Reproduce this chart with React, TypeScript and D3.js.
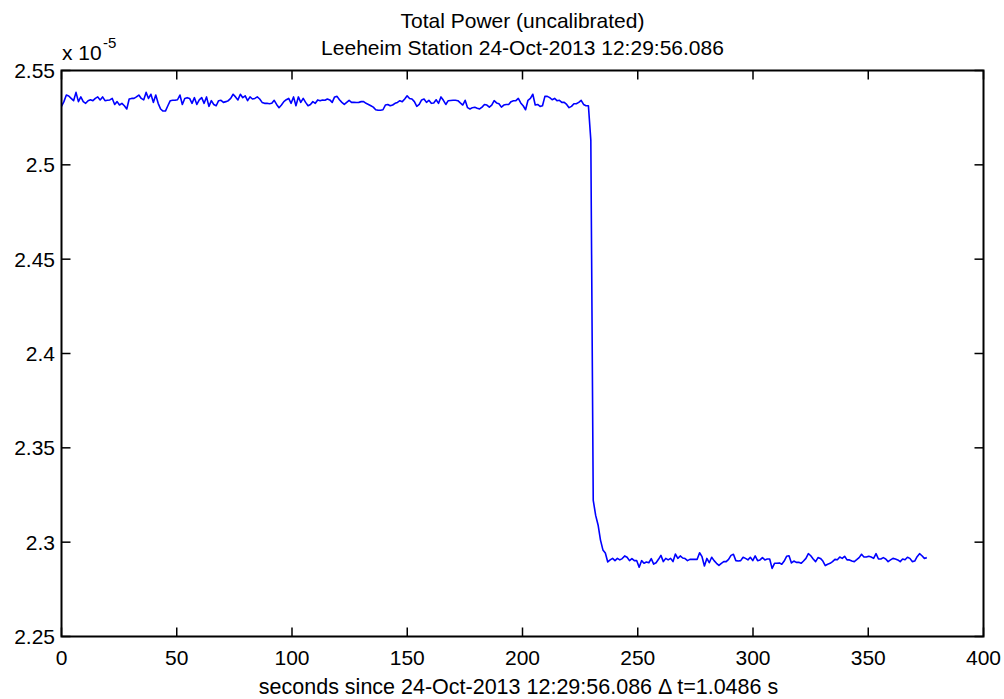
import React from "react";
import * as d3 from "d3";

const titleLines = ["Total Power (uncalibrated)", "Leeheim Station 24-Oct-2013 12:29:56.086"];
const xLabel = "seconds since 24-Oct-2013 12:29:56.086 \u0394 t=1.0486 s";
const dt = 1.0486;
const xTicks = [0, 50, 100, 150, 200, 250, 300, 350, 400];
const yTicks = [2.25, 2.3, 2.35, 2.4, 2.45, 2.5, 2.55];
const yTickLabels = ["2.25", "2.3", "2.35", "2.4", "2.45", "2.5", "2.55"];

// total power, units of 1e-5, one value per sample (spacing dt)
const powerHigh1 = [
  2.5310, 2.5335, 2.5370, 2.5365, 2.5352, 2.5340, 2.5384, 2.5335, 2.5360, 2.5335,
  2.5326, 2.5340, 2.5345, 2.5340, 2.5352, 2.5360, 2.5344, 2.5360, 2.5340, 2.5342,
  2.5344, 2.5352, 2.5320, 2.5335, 2.5317, 2.5326, 2.5313, 2.5296, 2.5349, 2.5352,
  2.5352, 2.5360, 2.5370, 2.5352, 2.5344, 2.5384, 2.5352, 2.5374, 2.5331, 2.5370,
  2.5326, 2.5296, 2.5285, 2.5285, 2.5313, 2.5340, 2.5342, 2.5342, 2.5345, 2.5370,
  2.5320, 2.5352, 2.5356, 2.5352, 2.5326, 2.5356, 2.5320, 2.5344, 2.5356, 2.5326,
  2.5360, 2.5310, 2.5340, 2.5320, 2.5313, 2.5340, 2.5342, 2.5331, 2.5335, 2.5340,
  2.5352, 2.5374, 2.5360,
];
const powerHigh2 = [
  2.5344, 2.5374, 2.5356, 2.5366, 2.5340, 2.5360, 2.5349, 2.5352, 2.5360, 2.5349,
  2.5331, 2.5326, 2.5326, 2.5324, 2.5326, 2.5342, 2.5320, 2.5303, 2.5317, 2.5335,
  2.5345, 2.5352, 2.5326, 2.5360, 2.5313, 2.5360, 2.5331, 2.5352, 2.5331, 2.5313,
  2.5320, 2.5335, 2.5326, 2.5344, 2.5340, 2.5344, 2.5342, 2.5349, 2.5344, 2.5331,
  2.5360, 2.5363, 2.5345, 2.5331, 2.5320, 2.5331, 2.5342, 2.5331, 2.5331, 2.5330,
  2.5331, 2.5335, 2.5335, 2.5326, 2.5320, 2.5313, 2.5306, 2.5292, 2.5289, 2.5289,
  2.5292, 2.5317, 2.5320, 2.5313, 2.5317, 2.5326, 2.5331, 2.5340, 2.5335, 2.5349,
  2.5366, 2.5352, 2.5349, 2.5335,
];
const powerHigh3 = [
  2.5310, 2.5320, 2.5344, 2.5349, 2.5331, 2.5342, 2.5326, 2.5328, 2.5345, 2.5326,
  2.5360, 2.5342, 2.5320, 2.5340, 2.5341, 2.5342, 2.5342, 2.5340, 2.5328, 2.5317,
  2.5342, 2.5303, 2.5296, 2.5303, 2.5305, 2.5300, 2.5296, 2.5306, 2.5320, 2.5317,
  2.5306, 2.5317, 2.5340, 2.5328, 2.5324, 2.5306, 2.5317, 2.5320, 2.5320, 2.5335,
  2.5340, 2.5340, 2.5352, 2.5328, 2.5313, 2.5292, 2.5342, 2.5352, 2.5374, 2.5317,
  2.5320, 2.5310, 2.5313, 2.5363, 2.5363, 2.5356, 2.5345, 2.5352, 2.5340, 2.5342,
  2.5331, 2.5331, 2.5320, 2.5303, 2.5310, 2.5324, 2.5324, 2.5331, 2.5342, 2.5320,
  2.5313, 2.5313,
];
const powerDrop = [2.5131, 2.3222, 2.3142, 2.3091, 2.3011, 2.2959, 2.2943, 2.2895];
const powerLow1 = [
  2.2906, 2.2914, 2.2902, 2.2914, 2.2906, 2.2913, 2.2927, 2.2920, 2.2902, 2.2913,
  2.2902, 2.2902, 2.2867, 2.2902, 2.2888, 2.2895, 2.2891, 2.2913, 2.2884, 2.2891,
  2.2909, 2.2930, 2.2897, 2.2914, 2.2906, 2.2914, 2.2897, 2.2937, 2.2914, 2.2927,
  2.2916, 2.2913, 2.2902, 2.2909, 2.2909, 2.2909, 2.2909, 2.2944, 2.2923, 2.2874,
  2.2914, 2.2891, 2.2920, 2.2902, 2.2888, 2.2877, 2.2888, 2.2897, 2.2897, 2.2909,
  2.2930, 2.2936, 2.2902, 2.2900, 2.2902, 2.2920, 2.2914, 2.2906, 2.2920, 2.2902,
  2.2927, 2.2902,
];
const powerLow2 = [
  2.2906, 2.2918, 2.2906, 2.2911, 2.2911, 2.2861, 2.2888, 2.2888, 2.2890, 2.2883,
  2.2900, 2.2925, 2.2928, 2.2890, 2.2900, 2.2893, 2.2893, 2.2888, 2.2900, 2.2914,
  2.2939, 2.2928, 2.2911, 2.2897, 2.2918, 2.2914, 2.2900, 2.2876, 2.2883, 2.2888,
  2.2897, 2.2909, 2.2907, 2.2921, 2.2914, 2.2925, 2.2906, 2.2906, 2.2900, 2.2897,
  2.2907, 2.2918, 2.2936, 2.2921, 2.2921, 2.2925, 2.2921, 2.2914, 2.2939, 2.2911,
  2.2911, 2.2918, 2.2911, 2.2897, 2.2906, 2.2914, 2.2911, 2.2906, 2.2897, 2.2911,
  2.2907, 2.2920, 2.2914, 2.2897, 2.2900, 2.2923, 2.2939, 2.2928, 2.2914, 2.2918,
];

const power = [...powerHigh1, ...powerHigh2, ...powerHigh3, ...powerDrop, ...powerLow1, ...powerLow2];

const W = 1004;
const H = 699;
const M = { left: 61.5, right: 983.5, top: 70.5, bottom: 636.5 };
const FONT = "'Liberation Sans', Arial, Helvetica, sans-serif";
const TICK = 9;
const FS = 21;

export default function App() {
  const x = d3.scaleLinear().domain([0, 400]).range([M.left, M.right]);
  const y = d3.scaleLinear().domain([2.25, 2.55]).range([M.bottom, M.top]);
  const line = d3
    .line<number>()
    .x((_, i) => x(i * dt))
    .y((v) => y(v));
  const path = line(power) || "";
  const cx = (M.left + M.right) / 2;

  return (
    <svg
      width={W}
      height={H}
      style={{ position: "absolute", left: 0, top: 0, display: "block", background: "#fff" }}
      fontFamily={FONT}
    >
      <rect x={0} y={0} width={W} height={H} fill="#fff" />
      <path d={path} fill="none" stroke="#0000ff" strokeWidth={1.6} strokeLinejoin="round" />
      {xTicks.map((t) => (
        <g key={"x" + t}>
          <line x1={x(t)} x2={x(t)} y1={M.bottom} y2={M.bottom - TICK} stroke="#000" strokeWidth={1.5} />
          <line x1={x(t)} x2={x(t)} y1={M.top} y2={M.top + TICK} stroke="#000" strokeWidth={1.5} />
          <text x={x(t)} y={665} textAnchor="middle" fontSize={FS} fill="#000">
            {t}
          </text>
        </g>
      ))}
      {yTicks.map((t, i) => (
        <g key={"y" + t}>
          <line x1={M.left} x2={M.left + TICK} y1={y(t)} y2={y(t)} stroke="#000" strokeWidth={1.5} />
          <line x1={M.right} x2={M.right - TICK} y1={y(t)} y2={y(t)} stroke="#000" strokeWidth={1.5} />
          <text x={55} y={y(t)} dy="0.36em" textAnchor="end" fontSize={FS} fill="#000">
            {yTickLabels[i]}
          </text>
        </g>
      ))}
      <rect
        x={M.left}
        y={M.top}
        width={M.right - M.left}
        height={M.bottom - M.top}
        fill="none"
        stroke="#000"
        strokeWidth={2}
      />
      <text x={62} y={60} fontSize={FS} fill="#000">
        x 10
      </text>
      <text x={103} y={48} fontSize={15} fill="#000">
        -5
      </text>
      <text x={cx} y={28} textAnchor="middle" fontSize={FS} fill="#000">
        {titleLines[0]}
      </text>
      <text x={cx} y={55} textAnchor="middle" fontSize={FS} fill="#000">
        {titleLines[1]}
      </text>
      <text x={cx - 4} y={694} textAnchor="middle" fontSize={21.5} fill="#000">
        {xLabel}
      </text>
    </svg>
  );
}
